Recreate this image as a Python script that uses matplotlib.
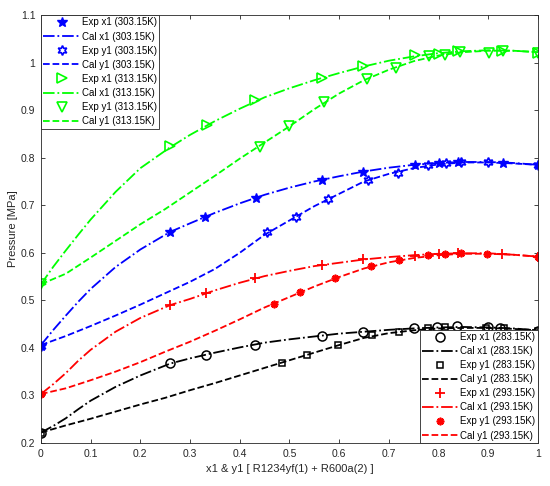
import numpy as np
import matplotlib
matplotlib.use('Agg')
import matplotlib.pyplot as plt

plt.rcParams['font.family'] = ['Liberation Sans', 'DejaVu Sans']

#### calculated curves ####
xc = [0, 0.025, 0.05, 0.075, 0.1, 0.15, 0.2, 0.26, 0.3, 0.35, 0.4, 0.45, 0.5, 0.55, 0.6,
      0.65, 0.7, 0.75, 0.8, 0.85, 0.9, 0.95, 1.0]
yc = [0, 0.05, 0.1, 0.15, 0.2, 0.25, 0.3, 0.35, 0.4, 0.45, 0.5, 0.55, 0.6,
      0.65, 0.7, 0.75, 0.8, 0.85, 0.9, 0.95, 1.0]

cal_x1_283 = [0.222, 0.236, 0.252, 0.271, 0.289, 0.318, 0.342, 0.367, 0.378, 0.39, 0.401,
              0.411, 0.418, 0.424, 0.43, 0.434, 0.438, 0.441, 0.443, 0.444, 0.443, 0.441, 0.437]
cal_y1_283 = [0.222, 0.237, 0.251, 0.266, 0.281, 0.295, 0.311, 0.326, 0.342, 0.358, 0.374,
              0.39, 0.406, 0.421, 0.431, 0.437, 0.441, 0.442, 0.442, 0.44, 0.437]
cal_x1_293 = [0.303, 0.324, 0.347, 0.373, 0.396, 0.434, 0.463, 0.49, 0.503, 0.521, 0.537,
              0.551, 0.562, 0.572, 0.579, 0.586, 0.591, 0.595, 0.598, 0.599, 0.599, 0.596, 0.592]
cal_y1_293 = [0.303, 0.315, 0.332, 0.35, 0.37, 0.392, 0.413, 0.436, 0.46, 0.485, 0.507,
              0.529, 0.549, 0.567, 0.58, 0.589, 0.595, 0.598, 0.598, 0.596, 0.592]
cal_x1_303 = [0.406, 0.438, 0.468, 0.497, 0.524, 0.57, 0.607, 0.644, 0.662, 0.684, 0.704,
              0.722, 0.737, 0.75, 0.761, 0.771, 0.779, 0.785, 0.789, 0.791, 0.791, 0.789, 0.785]
cal_y1_303 = [0.406, 0.425, 0.446, 0.468, 0.491, 0.515, 0.539, 0.566, 0.6, 0.638, 0.668,
              0.698, 0.724, 0.75, 0.766, 0.778, 0.786, 0.79, 0.79, 0.788, 0.785]
cal_x1_313 = [0.534, 0.571, 0.605, 0.638, 0.67, 0.728, 0.778, 0.822, 0.848, 0.877, 0.903,
              0.927, 0.946, 0.963, 0.978, 0.992, 1.004, 1.013, 1.02, 1.024, 1.026, 1.025, 1.022]
cal_y1_313 = [0.534, 0.556, 0.59, 0.625, 0.66, 0.692, 0.727, 0.762, 0.798, 0.832, 0.866,
              0.902, 0.935, 0.963, 0.985, 1.003, 1.015, 1.022, 1.025, 1.025, 1.022]

#### experimental points ####
ex_x1_283 = [0, 0.26, 0.332, 0.431, 0.565, 0.648, 0.75, 0.797, 0.838, 0.90, 0.924, 1]
ep_x1_283 = [0.221, 0.369, 0.386, 0.407, 0.425, 0.434, 0.441, 0.444, 0.446, 0.443, 0.441, 0.436]
ex_y1_283 = [0, 0.486, 0.536, 0.598, 0.667, 0.721, 0.779, 0.813, 0.895, 0.932, 1]
ep_y1_283 = [0.221, 0.369, 0.386, 0.407, 0.427, 0.434, 0.441, 0.443, 0.442, 0.441, 0.436]

ex_x1_293 = [0, 0.26, 0.332, 0.431, 0.565, 0.648, 0.752, 0.80, 0.84, 0.927, 1]
ep_x1_293 = [0.302, 0.49, 0.516, 0.547, 0.574, 0.586, 0.594, 0.597, 0.599, 0.597, 0.591]
ex_y1_293 = [0, 0.469, 0.522, 0.592, 0.665, 0.721, 0.779, 0.813, 0.845, 0.897, 1]
ep_y1_293 = [0.302, 0.493, 0.517, 0.546, 0.573, 0.584, 0.596, 0.598, 0.599, 0.598, 0.591]

ex_x1_303 = [0, 0.26, 0.33, 0.433, 0.565, 0.649, 0.752, 0.80, 0.84, 0.929, 1]
ep_x1_303 = [0.405, 0.644, 0.675, 0.715, 0.754, 0.770, 0.784, 0.789, 0.791, 0.788, 0.785]
ex_y1_303 = [0, 0.454, 0.513, 0.578, 0.659, 0.719, 0.779, 0.815, 0.845, 0.90, 1]
ep_y1_303 = [0.405, 0.644, 0.675, 0.714, 0.753, 0.768, 0.784, 0.789, 0.791, 0.790, 0.785]

ex_x1_313 = [0, 0.26, 0.335, 0.43, 0.565, 0.648, 0.752, 0.80, 0.839, 0.927, 1]
ep_x1_313 = [0.535, 0.825, 0.868, 0.922, 0.968, 0.993, 1.015, 1.019, 1.024, 1.024, 1.021]
ex_y1_313 = [0, 0.44, 0.50, 0.57, 0.657, 0.714, 0.781, 0.813, 0.843, 0.902, 0.93, 1]
ep_y1_313 = [0.535, 0.823, 0.866, 0.918, 0.966, 0.989, 1.013, 1.017, 1.022, 1.021, 1.024, 1.021]

#### 画图 ####
fig = plt.figure(figsize=(5.5, 4.86), dpi=100)
ax = fig.add_axes([0.0745, 0.0885, 0.9035, 0.8805])

lw = 1.3
G = '#00ff00'
hexa = (6, 1, 0)

# 303.15K / 313.15K (upper left legend)
h1 = []
h1 += ax.plot(ex_x1_303, ep_x1_303, '*', color='b', ms=7.5, ls='none', label='Exp x1 (303.15K)')
h1 += ax.plot(xc, cal_x1_303, '-.', color='b', lw=lw, label='Cal x1 (303.15K)')
h1 += ax.plot(ex_y1_303, ep_y1_303, marker=hexa, color='b', mfc='none', mew=1.2, ms=7,
              ls='none', label='Exp y1 (303.15K)')
h1 += ax.plot(yc, cal_y1_303, '--', color='b', lw=lw, label='Cal y1 (303.15K)')
h1 += ax.plot(ex_x1_313, ep_x1_313, '>', color=G, mfc='none', mew=1.2, ms=6.5, ls='none',
              label='Exp x1 (313.15K)')
h1 += ax.plot(xc, cal_x1_313, '-.', color=G, lw=lw, label='Cal x1 (313.15K)')
h1 += ax.plot(ex_y1_313, ep_y1_313, 'v', color=G, mfc='none', mew=1.2, ms=6.5, ls='none',
              label='Exp y1 (313.15K)')
h1 += ax.plot(yc, cal_y1_313, '--', color=G, lw=lw, label='Cal y1 (313.15K)')

# 283.15K / 293.15K (lower right legend)
h2 = []
h2 += ax.plot(ex_x1_283, ep_x1_283, 'o', color='k', mfc='none', mew=1.1, ms=6.5, ls='none',
              label='Exp x1 (283.15K)')
h2 += ax.plot(xc, cal_x1_283, '-.', color='k', lw=lw, label='Cal x1 (283.15K)')
h2 += ax.plot(ex_y1_283, ep_y1_283, 's', color='k', mfc='none', mew=1.1, ms=4.5, ls='none',
              label='Exp y1 (283.15K)')
h2 += ax.plot(yc, cal_y1_283, '--', color='k', lw=lw, label='Cal y1 (283.15K)')
h2 += ax.plot(ex_x1_293, ep_x1_293, '+', color='r', mew=1.3, ms=6.5, ls='none',
              label='Exp x1 (293.15K)')
h2 += ax.plot(xc, cal_x1_293, '-.', color='r', lw=lw, label='Cal x1 (293.15K)')
h2 += ax.plot(ex_y1_293, ep_y1_293, marker=(8, 2, 0), color='r', mew=1.3, ms=5.5, ls='none',
              label='Exp y1 (293.15K)')
h2 += ax.plot(yc, cal_y1_293, '--', color='r', lw=lw, label='Cal y1 (293.15K)')

ax.set_xlim(0, 1)
ax.set_ylim(0.2, 1.1)
ax.set_xticks([i / 10 for i in range(11)])
ax.set_xticklabels(['0', '0.1', '0.2', '0.3', '0.4', '0.5', '0.6', '0.7', '0.8', '0.9', '1'])
ax.set_yticks([0.2 + i / 10 for i in range(10)])
ax.set_yticklabels(['0.2', '0.3', '0.4', '0.5', '0.6', '0.7', '0.8', '0.9', '1', '1.1'])
ax.tick_params(direction='in', top=True, right=True, labelsize=7.5, length=3,
               width=0.6, color='#262626', labelcolor='#262626', pad=4)
for sp in ax.spines.values():
    sp.set_linewidth(0.6)
    sp.set_color('#262626')
ax.set_xlabel('x1 & y1 [ R1234yf(1) + R600a(2) ]', fontsize=8, color='#262626', labelpad=4)
ax.set_ylabel('Pressure [MPa]', fontsize=8, color='#262626', labelpad=2)

leg_kw = dict(fontsize=7, frameon=True, fancybox=False, framealpha=1, edgecolor='#262626',
              borderaxespad=0, handlelength=3.8, handletextpad=0.15, borderpad=0.25,
              labelspacing=0.42)
leg1 = ax.legend(handles=h1, loc='upper left', **leg_kw)
leg1.get_frame().set_linewidth(0.6)
ax.add_artist(leg1)
leg2 = ax.legend(handles=h2, loc='lower right', **leg_kw)
leg2.get_frame().set_linewidth(0.6)

fig.savefig('out.png', dpi=100)
